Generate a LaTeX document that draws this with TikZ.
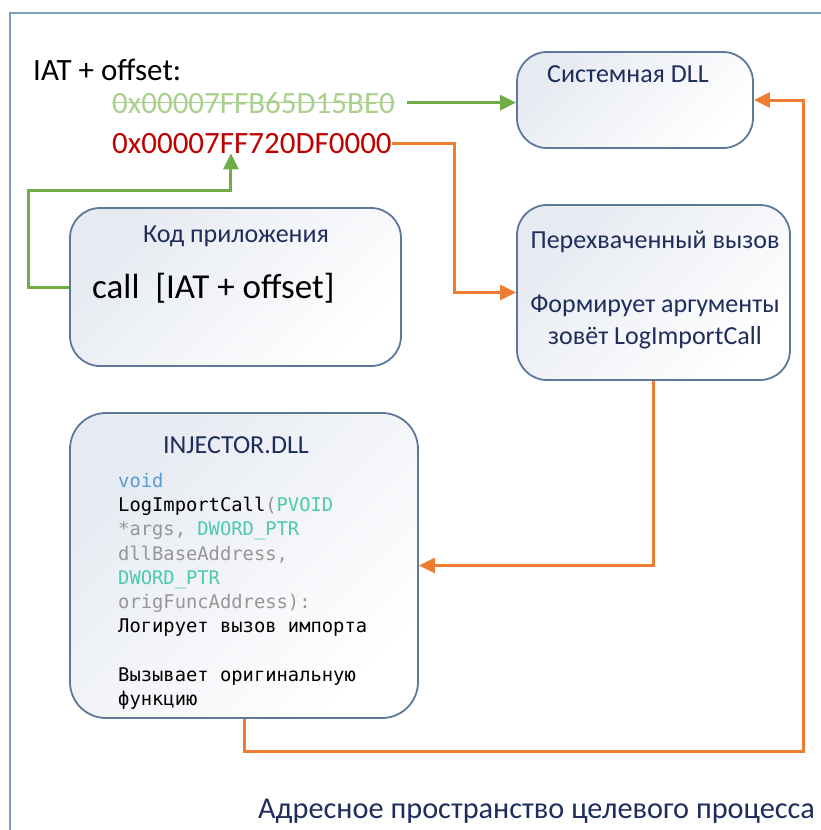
\documentclass[tikz,border=0pt]{standalone}
\usepackage{fontspec}
\setmainfont{Carlito}
\setmonofont{DejaVu Sans Mono}
\usetikzlibrary{arrows.meta,positioning,calc}
\definecolor{navy}{RGB}{31,45,92}
\definecolor{steel}{RGB}{93,120,152}
\definecolor{frameblue}{RGB}{124,156,192}
\definecolor{tint}{RGB}{230,234,241}
\definecolor{flame}{RGB}{237,125,49}
\definecolor{leaf}{RGB}{112,173,71}
\definecolor{paleleaf}{RGB}{169,209,142}
\definecolor{brick}{RGB}{192,0,0}
\definecolor{kwblue}{RGB}{86,156,214}
\definecolor{typeteal}{RGB}{78,201,176}
\definecolor{argray}{RGB}{150,150,150}
\tikzset{
  >={Triangle[length=16pt,width=15pt]},
  box/.style={draw=steel,line width=1.8pt,rounded corners=30pt,
    top color=tint,bottom color=white,shading angle=45},
  head/.style={text=navy,inner sep=0pt,font=\fontsize{26}{32}\selectfont},
  plain/.style={inner sep=0pt,font=\fontsize{31}{36}\selectfont},
  hex/.style={text=#1,inner sep=0pt,font=\fontsize{31}{36}\selectfont},
  code/.style={align=left,inner sep=0pt,font=\ttfamily\fontsize{18.8}{24.2}\selectfont},
  flow/.style={->,line width=3pt,draw=#1},
  flow/.default=flame,
}
\begin{document}
\begin{tikzpicture}[x=1pt,y=-1pt]
  \useasboundingbox (0,0) rectangle (821,830);
  % address space frame
  \draw[frameblue,line width=1.7pt] (10,830) -- (10,13) -- (821,13);
  % boxes
  \node[box,minimum width=236pt,minimum height=96pt] (sysdll) at (635,100) {};
  \node[box,minimum width=273pt,minimum height=175pt] (hook) at (653.5,292.5) {};
  \node[box,minimum width=331pt,minimum height=158pt] (app) at (235.5,287) {};
  \node[box,minimum width=348pt,minimum height=305pt,rounded corners=36pt] (injector) at (244,565.5) {};
  % IAT entry
  \node[plain,anchor=base west] (iat) at (33,80) {IAT + offset:};
  \node[hex=paleleaf,anchor=base west] (origaddr) at (112,113) {0x00007FFB65D15BE0};
  \draw[paleleaf,line width=1.5pt] (origaddr.west) -- (origaddr.east);
  \node[hex=brick,anchor=base west] (hookaddr) at (112,153) {0x00007FF720DF0000};
  % box texts
  \node[head,anchor=base] (systitle) at (628,82) {Системная DLL};
  \node[head,anchor=base] (apptitle) at (236,242) {Код приложения};
  \node[plain,anchor=base west,font=\fontsize{35}{40}\selectfont] (callline) at (92,298) {call\ \ [IAT + offset]};
  \node[head,align=center] (hooktext) at (655,290) {Перехваченный вызов\\[32pt]Формирует аргументы\\зовёт LogImportCall};
  \node[head,anchor=base] (injtitle) at (236,453) {INJECTOR.DLL};
  \node[code,anchor=north west] (injcode) at (118,473) {{\color{kwblue}void}\\
    LogImportCall{\color{argray}(}{\color{typeteal}PVOID}\\
    {\color{argray}*args,} {\color{typeteal}DWORD\_PTR}\\
    {\color{argray}dllBaseAddress,}\\
    {\color{typeteal}DWORD\_PTR}\\
    {\color{argray}origFuncAddress):}\\
    Логирует вызов импорта\\[24.2pt]
    Вызывает оригинальную\\
    функцию};
  \node[head,anchor=base west,font=\fontsize{30.3}{34}\selectfont] (caption) at (258,818) {Адресное пространство целевого процесса};
  % connectors
  \coordinate (rbend) at (454,292.5);
  \coordinate (gbend) at (28,190);
  \coordinate (gtip) at ([xshift=-21pt]hookaddr.south);
  \coordinate (loop) at (803,751);
  \draw[flow=leaf,shorten <=12pt] (origaddr.east) -- (origaddr.east -| sysdll.west);
  \draw[flow] (hookaddr.east) -| (rbend) -- (hook.west);
  \draw[flow=leaf] (app.west) -| (gbend) -| (gtip);
  \draw[flow] (hook.south) |- (injector.east);
  \draw[flow] (injector.south) |- (loop) |- (sysdll.east);
\end{tikzpicture}
\end{document}
